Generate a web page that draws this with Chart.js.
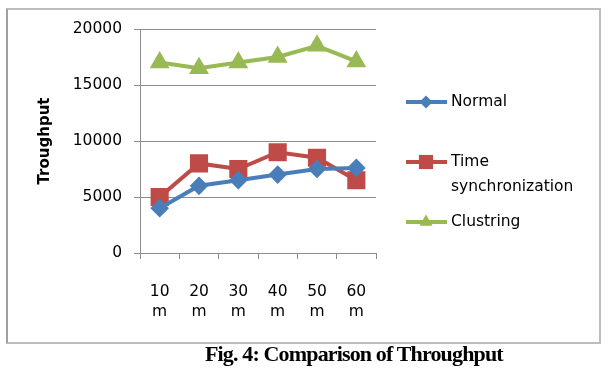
<!DOCTYPE html>
<html lang="en">
<head>
    <meta charset="UTF-8">
    <title>Comparison of Throughput</title>
    <script src="https://cdn.jsdelivr.net/npm/chart.js"></script>
    <style>
        body {
            margin: 0;
            padding: 0;
            background-color: #fff;
        }

        .wrap {
            position: relative;
            width: 608px;
            height: 368px;
        }

        .frame {
            position: absolute;
            left: 6px;
            top: 8px;
            width: 591px;
            height: 332px;
            border: 2px solid #bdbdbd;
            border-left-color: #a0a0a0;
        }

        canvas {
            position: absolute;
            left: 0;
            top: 0;
        }

        .caption {
            position: absolute;
            left: 205px;
            top: 341px;
            font-family: "Liberation Serif", serif;
            font-weight: bold;
            font-size: 22px;
            line-height: 26px;
            letter-spacing: -0.85px;
            color: #000;
            white-space: nowrap;
        }
    </style>
</head>
<body>
    <div class="wrap">
        <div class="frame"></div>
        <canvas id="tpChart" width="608" height="368"></canvas>
        <div class="caption">Fig. 4: Comparison of Throughput</div>
    </div>

    <script>
        // data
        const distances = ['10 m', '20 m', '30 m', '40 m', '50 m', '60 m'];
        const normal = [4000, 6000, 6500, 7000, 7500, 7600];
        const timeSync = [5000, 8000, 7500, 9000, 8500, 6500];
        const clustring = [17000, 16500, 17000, 17500, 18500, 17100];
        const yTicks = [0, 5000, 10000, 15000, 20000];

        const legendLabels = [['Normal'], ['Time', 'synchronization'], ['Clustring']];
        const legendY = [102, 162, 222];

        const gridGray = '#8c8c8c';
        const tickFont = { family: 'DejaVu Sans', size: 15.5 };

        // draws the legend to the right (line + marker, like the original)
        const sideLegend = {
            id: 'sideLegend',
            afterDraw(chart) {
                const ctx = chart.ctx;
                chart.data.datasets.forEach(function (ds, i) {
                    const y = legendY[i];
                    ctx.save();
                    ctx.strokeStyle = ds.borderColor;
                    ctx.lineWidth = ds.borderWidth;
                    ctx.beginPath();
                    ctx.moveTo(406, y);
                    ctx.lineTo(447, y);
                    ctx.stroke();
                    ctx.fillStyle = ds.pointBackgroundColor;
                    ctx.strokeStyle = ds.pointBorderColor;
                    ctx.lineWidth = 1;
                    Chart.helpers.drawPoint(ctx, { pointStyle: ds.pointStyle, radius: ds.pointRadius, rotation: 0 }, 426, y);
                    ctx.fillStyle = '#000';
                    ctx.font = '15.5px "DejaVu Sans"';
                    ctx.textBaseline = 'middle';
                    legendLabels[i].forEach(function (line, k) {
                        ctx.fillText(line, 451, y + k * 25);
                    });
                    ctx.restore();
                });
            }
        };

        function series(label, data, color, style, radius) {
            return {
                label: label,
                data: data,
                borderColor: color,
                backgroundColor: color,
                pointBackgroundColor: color,
                pointBorderColor: color,
                borderWidth: 4,
                pointStyle: style,
                pointRadius: radius,
                pointHoverRadius: radius,
                tension: 0,
                fill: false
            };
        }

        new Chart(document.getElementById('tpChart'), {
            type: 'line',
            data: {
                labels: distances.map(function (d) { return d.split(' '); }),
                datasets: [
                    series('Normal', normal, '#4a7ebb', 'rectRot', 6.5),
                    series('Time synchronization', timeSync, '#be4b48', 'rect', 10),
                    series('Clustring', clustring, '#98b954', 'triangle', 7.5)
                ]
            },
            options: {
                responsive: false,
                animation: false,
                layout: {
                    padding: { left: 0, right: 232, top: 29, bottom: 0 }
                },
                plugins: {
                    legend: { display: false },
                    tooltip: { enabled: false }
                },
                scales: {
                    x: {
                        offset: true,
                        grid: {
                            offset: true,
                            drawOnChartArea: false,
                            color: gridGray,
                            tickLength: 6
                        },
                        border: { color: gridGray, width: 1 },
                        ticks: {
                            color: '#000',
                            font: Object.assign({ lineHeight: 1.3 }, tickFont),
                            padding: 23,
                            maxRotation: 0,
                            autoSkip: false
                        },
                        afterFit: function (s) { s.height = 115; }
                    },
                    y: {
                        min: 0,
                        max: 20000,
                        afterBuildTicks: function (s) {
                            s.ticks = yTicks.map(function (v) { return { value: v }; });
                        },
                        grid: { color: gridGray, tickLength: 6 },
                        border: { color: gridGray, width: 1 },
                        ticks: {
                            color: '#000',
                            font: tickFont,
                            padding: 12,
                            callback: function (v) { return String(v); }
                        },
                        title: {
                            display: true,
                            text: 'Troughput',
                            color: '#000',
                            font: { family: 'DejaVu Sans', size: 15, weight: 'bold' },
                            padding: { top: 36, bottom: 0 }
                        },
                        afterFit: function (s) { s.width = 140; }
                    }
                }
            },
            plugins: [sideLegend]
        });
    </script>
</body>
</html>
